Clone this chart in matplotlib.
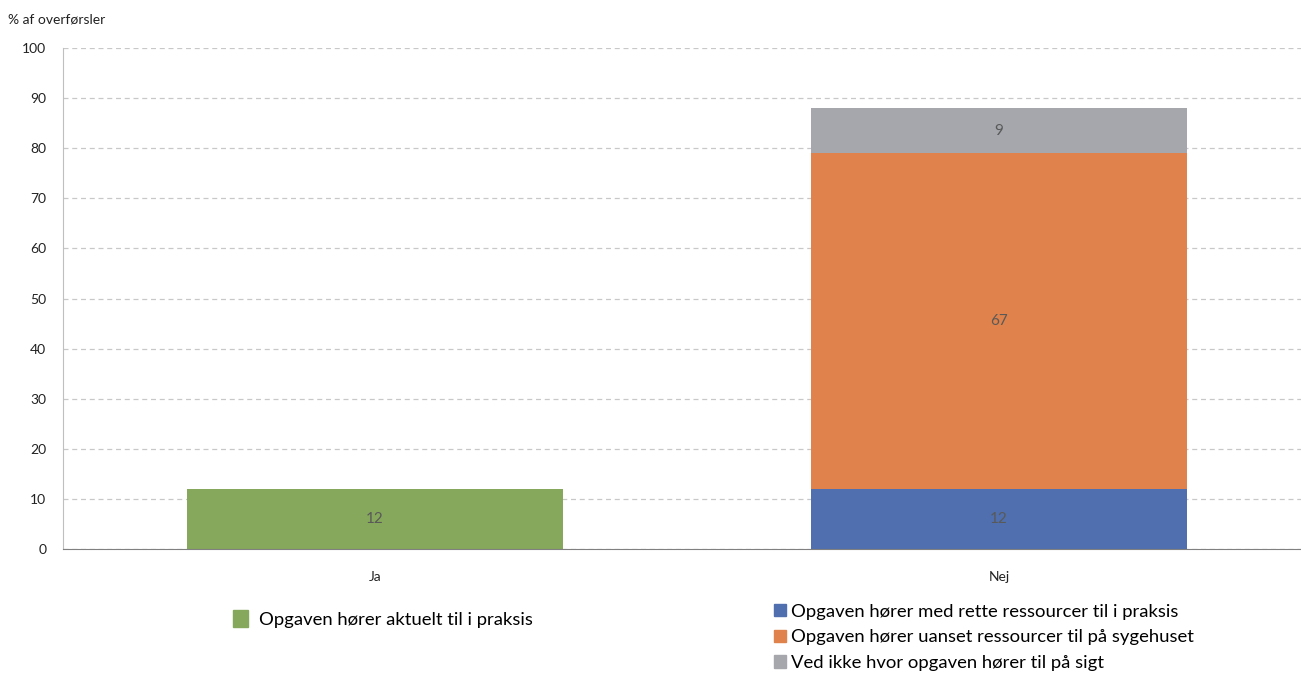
import matplotlib.pyplot as plt
from matplotlib.patches import Patch

plt.rcParams['font.family'] = ['Lato', 'DejaVu Sans']

categories = ["Ja", "Nej"]
ja_values = [12, 0]
praksis_values = [0, 12]
sygehus_values = [0, 67]
ved_ikke_values = [0, 9]

ja_label = "Opgaven hører aktuelt til i praksis"
nej_labels = ["Opgaven hører med rette ressourcer til i praksis",
              "Opgaven hører uanset ressourcer til på sygehuset",
              "Ved ikke hvor opgaven hører til på sigt"]

green = "#86a85c"
blue = "#4f6fae"
orange = "#df824b"
grey = "#a5a7ac"
label_color = "#595959"

fig = plt.figure(figsize=(13.01, 6.74), dpi=100)
ax = fig.add_axes([63 / 1301, 1 - 549 / 674, 1248 / 1301, 501 / 674])

x = range(len(categories))
w = 0.604

ax.bar(x[0], ja_values[0], width=w, color=green)
b1 = ax.bar(x[1], praksis_values[1], width=w, color=blue)
b2 = ax.bar(x[1], sygehus_values[1], width=w, bottom=praksis_values[1], color=orange)
b3 = ax.bar(x[1], ved_ikke_values[1], width=w,
            bottom=praksis_values[1] + sygehus_values[1], color=grey)

# data labels in the middle of each segment
ax.text(x[0], ja_values[0] / 2, str(ja_values[0]), ha="center", va="center",
        fontsize=11, color=label_color)
bottom = 0
for v in [praksis_values[1], sygehus_values[1], ved_ikke_values[1]]:
    ax.text(x[1], bottom + v / 2, str(v), ha="center", va="center",
            fontsize=11, color=label_color)
    bottom += v

ax.set_xlim(-0.5, 1.5)
ax.set_ylim(0, 100)
ax.set_yticks(range(0, 101, 10))
ax.set_xticks(list(x))
ax.set_xticklabels(categories)
ax.tick_params(axis="both", length=0, labelsize=10, colors="#222222")
ax.tick_params(axis="y", pad=12)
ax.tick_params(axis="x", pad=16)
ax.grid(axis="y", color="#c8c8c8", linestyle=(0, (4, 3)), linewidth=0.9)
ax.set_axisbelow(True)
for s in ["top", "right"]:
    ax.spines[s].set_visible(False)
ax.spines["left"].set_color("#bfbfbf")
ax.spines["bottom"].set_color("#808080")

fig.text(8 / 1301, 1 - 19 / 674, "% af overførsler", fontsize=10,
         color="#222222", va="center")

fig.legend(handles=[Patch(color=green)], labels=[ja_label],
           loc="center left", bbox_to_anchor=(216 / 1301, 1 - 619 / 674),
           frameon=False, fontsize=13.3, handlelength=0.85, handleheight=1.05,
           handletextpad=0.6)
fig.legend(handles=[Patch(color=blue), Patch(color=orange), Patch(color=grey)],
           labels=nej_labels, loc="upper left",
           bbox_to_anchor=(757 / 1301, 1 - 587 / 674), frameon=False,
           fontsize=13.3, handlelength=0.65, handleheight=0.65,
           handletextpad=0.3, labelspacing=0.52)

fig.savefig("out.png", dpi=100)
